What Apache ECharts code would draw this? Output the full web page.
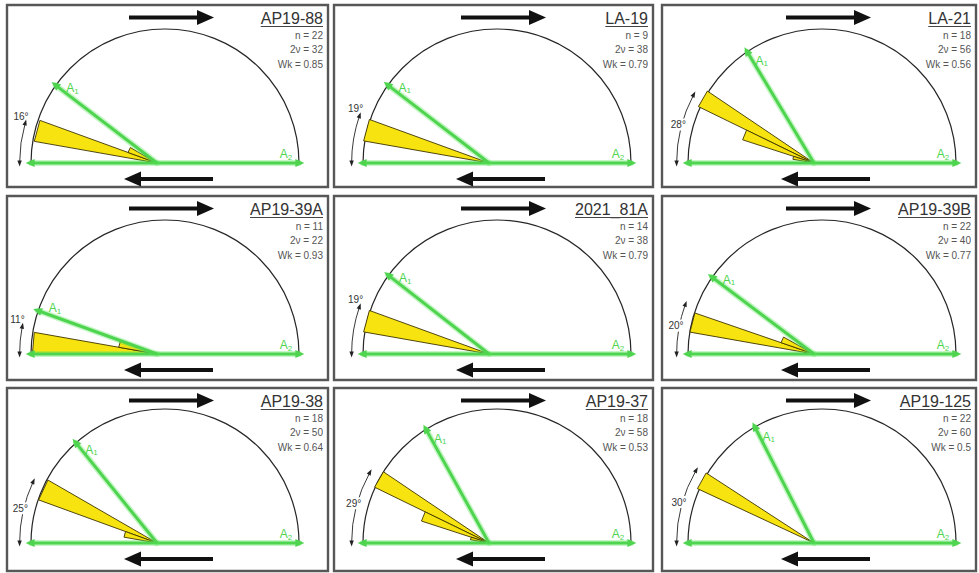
<!DOCTYPE html>
<html>
<head>
<meta charset="utf-8">
<script src="https://cdn.jsdelivr.net/npm/echarts@6/dist/echarts.min.js"></script>
<style>
  html, body { margin: 0; padding: 0; background: #fff; }
  #chart { width: 979px; height: 573px; }
</style>
</head>
<body>
<div id="chart"></div>
<script>
// Sample names, in reading order (3 x 3 panels)
const samples = ['AP19-88', 'LA-19', 'LA-21', 'AP19-39A', '2021_81A', 'AP19-39B', 'AP19-38', 'AP19-37', 'AP19-125'];
// Number of measured clasts per sample
const countN = [22, 9, 18, 11, 14, 22, 18, 18, 22];
// Critical angle 2ν (degrees)
const twoNu = [32, 38, 56, 22, 38, 40, 50, 58, 60];
// Kinematic vorticity number
const wkValues = [0.85, 0.79, 0.56, 0.93, 0.79, 0.77, 0.64, 0.53, 0.5];
// Inclined flow apophysis A1, angle above the horizontal apophysis A2 (degrees)
const apophysisAngle = [37.5, 37.6, 59, 20, 38, 37, 51, 61, 63];
// Rose bins per sample: [from angle, to angle, relative length]
const roseAP1988 = [[10, 20, 0.93], [20, 30, 0.23]];
const roseLA19 = [[10, 20, 0.95]];
const roseLA21 = [[26, 34, 0.96], [18, 26, 0.56], [10, 18, 0.16]];
const roseAP1939A = [[0, 10, 0.93], [10, 20, 0.29]];
const rose202181A = [[10, 20, 0.95]];
const roseAP1939B = [[10, 19, 0.94], [19, 29, 0.26]];
const roseAP1938 = [[20, 30, 0.94], [10, 20, 0.25]];
const roseAP1937 = [[26, 34, 0.95], [18, 26, 0.53], [10, 18, 0.14]];
const roseAP19125 = [[25, 33, 0.96]];
const roseBins = [roseAP1988, roseLA19, roseLA21, roseAP1939A, rose202181A, roseAP1939B, roseAP1938, roseAP1937, roseAP19125];

// ---- layout ----
const colEdges = [[7, 328], [334, 653], [662, 976]];
const rowEdges = [[5, 187], [196, 380], [388, 571]];
const arcCX = [165, 497, 822];
const arcCY = [163, 354, 543];
const R = 134;            // semicircle radius (px)
const APEX_SHIFT = 8;     // rose origin sits slightly left of the semicircle centre
const NU_R = 1.085;       // radius of the ν arc marker (in frame units)
const nuLabelMid = [false, false, true, false, false, true, true, true, true];
const GREEN = '#4fd44f';
const GLOW = 'rgba(90,230,90,0.35)';
const FONT = '"Liberation Sans", Arial, sans-serif';

// length of A1 (rose units) so that it ends on the semicircle
function apophysisLength(deg) {
  const c = Math.cos(deg * Math.PI / 180);
  const s = APEX_SHIFT;
  return (-s * c + Math.sqrt(s * s * c * c - s * s + R * R)) / R;
}

function renderWedge(params, api) {
  const a0 = api.value(0), a1 = api.value(1), len = api.value(2);
  const c = api.coord([0, a0]);
  const p0 = api.coord([len, a0]);
  const p1 = api.coord([len, a1]);
  return {
    type: 'polygon',
    shape: { points: [c, p0, p1] },
    style: { fill: '#f7e310', stroke: '#3d3400', lineWidth: 0.9, lineJoin: 'round' }
  };
}

function arrowHead(p, dir, len, half, color) {
  const perp = [-dir[1], dir[0]];
  const tip = [p[0] + dir[0] * len * 0.6, p[1] + dir[1] * len * 0.6];
  const base = [p[0] - dir[0] * len * 0.4, p[1] - dir[1] * len * 0.4];
  return {
    type: 'polygon',
    shape: { points: [tip, [base[0] + perp[0] * half, base[1] + perp[1] * half], [base[0] - perp[0] * half, base[1] - perp[1] * half]] },
    style: { fill: color }
  };
}

// green segment with a soft halo drawn underneath
function glowLine(p0, p1) {
  return [
    { type: 'line', shape: { x1: p0[0], y1: p0[1], x2: p1[0], y2: p1[1] },
      style: { stroke: GLOW, lineWidth: 6, lineCap: 'round' } },
    { type: 'line', shape: { x1: p0[0], y1: p0[1], x2: p1[0], y2: p1[1] },
      style: { stroke: GREEN, lineWidth: 3 } }
  ];
}

// horizontal apophysis A2 across the full diameter, arrow at both ends
function renderA2(params, api) {
  const r = api.value(0);
  const pl = api.coord([r, api.value(1)]);
  const pr = api.coord([r, api.value(2)]);
  return {
    type: 'group',
    children: glowLine(pl, pr).concat([
      arrowHead(pl, [-1, 0], 9, 4, GREEN),
      arrowHead(pr, [1, 0], 9, 4, GREEN)
    ])
  };
}

// inclined apophysis A1 from the rose origin to the semicircle, with its label
function renderA1(params, api) {
  const L = api.value(0), th = api.value(1);
  const o = api.coord([0, th]);
  const p = api.coord([L, th]);
  const d = [p[0] - o[0], p[1] - o[1]];
  const dl = Math.hypot(d[0], d[1]);
  const dir = [d[0] / dl, d[1] / dl];
  const u = [-dir[0], -dir[1]];
  const n = [-dir[1], dir[0]];
  const lx = p[0] + u[0] * 15 + n[0] * 8;
  const ly = p[1] + u[1] * 15 + n[1] * 8;
  return {
    type: 'group',
    children: glowLine(o, p).concat([
      arrowHead(p, dir, 9, 4, GREEN),
      { type: 'text',
        style: { text: '{a|A}{s|1}', x: lx, y: ly, align: 'center', verticalAlign: 'middle',
          rich: { a: { fontSize: 12, fontFamily: FONT, fill: GREEN, lineHeight: 14 },
                  s: { fontSize: 8, fontFamily: FONT, fill: GREEN, lineHeight: 8, verticalAlign: 'bottom' } } } }
    ])
  };
}

// ν arc marker, ν label and the A2 label, drawn in the frame polar
function makeFrameDecor(i) {
  return function (params, api) {
    const nu = api.value(0);
    const c = api.coord([0, 0]);
    const pa = api.coord([NU_R, 0]);
    const pb = api.coord([NU_R, nu]);
    const r = Math.hypot(pa[0] - c[0], pa[1] - c[1]);
    const endA = Math.atan2(pb[1] - c[1], pb[0] - c[0]);
    const startA = -Math.PI;
    const dEnd = [-Math.sin(endA), Math.cos(endA)];
    const dStart = [Math.sin(startA), -Math.cos(startA)];
    const children = [
      { type: 'arc', shape: { cx: c[0], cy: c[1], r: r, startAngle: startA, endAngle: endA, clockwise: true },
        style: { stroke: '#222', lineWidth: 0.9, fill: null } },
      arrowHead(pb, dEnd, 6, 2.2, '#222'),
      arrowHead(pa, dStart, 6, 2.2, '#222')
    ];
    const mid = nuLabelMid[i];
    const lp = mid ? api.coord([1.11, nu / 2 + 1]) : api.coord([1.13, nu + 2]);
    children.push({
      type: 'text',
      style: { text: nu + '°', x: lp[0], y: lp[1], align: 'center', verticalAlign: 'middle',
        font: '10px ' + FONT, fill: '#333', backgroundColor: mid ? '#fff' : null, padding: [1, 0] }
    });
    const pr = api.coord([1, 180]);
    children.push({
      type: 'text',
      style: { text: '{a|A}{s|2}', x: pr[0] - 13, y: pr[1] - 9, align: 'center', verticalAlign: 'middle',
        rich: { a: { fontSize: 12, fontFamily: FONT, fill: GREEN, lineHeight: 14 },
                s: { fontSize: 8, fontFamily: FONT, fill: GREEN, lineHeight: 8, verticalAlign: 'bottom' } } }
    });
    return { type: 'group', children: children };
  };
}

const measureCtx = document.createElement('canvas').getContext('2d');
function textWidth(txt, font) { measureCtx.font = font; return measureCtx.measureText(txt).width; }

const polar = [], angleAxis = [], radiusAxis = [], series = [], graphic = [];

samples.forEach(function (name, i) {
  const col = i % 3, row = Math.floor(i / 3);
  const cx = arcCX[col], cy = arcCY[row];
  const fp = 2 * i, rp = 2 * i + 1;
  polar.push({ center: [cx, cy], radius: R });
  polar.push({ center: [cx - APEX_SHIFT, cy], radius: R });
  [0, 1].forEach(function (k) {
    angleAxis.push({ polarIndex: 2 * i + k, type: 'value', min: 0, max: 180, startAngle: 180, endAngle: 0, clockwise: true,
      axisLine: { show: k === 0, lineStyle: { color: '#262626', width: 1.2 } },
      axisTick: { show: false }, axisLabel: { show: false }, splitLine: { show: false }, splitArea: { show: false } });
    radiusAxis.push({ polarIndex: 2 * i + k, type: 'value', min: 0, max: 1,
      axisLine: { show: false }, axisTick: { show: false }, axisLabel: { show: false }, splitLine: { show: false } });
  });

  // rose wedges
  series.push({ type: 'custom', name: name, coordinateSystem: 'polar', polarIndex: rp, renderItem: renderWedge,
    data: roseBins[i], z: 3, silent: true });

  // horizontal apophysis A2
  series.push({ type: 'custom', coordinateSystem: 'polar', polarIndex: fp, renderItem: renderA2,
    data: [[1, 0, 180]], z: 4, silent: true });

  // inclined apophysis A1
  const th = apophysisAngle[i];
  series.push({ type: 'custom', coordinateSystem: 'polar', polarIndex: rp, renderItem: renderA1,
    data: [[apophysisLength(th), th]], z: 4, silent: true });

  series.push({ type: 'custom', coordinateSystem: 'polar', polarIndex: fp, renderItem: makeFrameDecor(i),
    data: [[twoNu[i] / 2]], z: 5, silent: true });

  // panel frame
  const x0 = colEdges[col][0], x1 = colEdges[col][1];
  const y0 = rowEdges[row][0], y1 = rowEdges[row][1];
  graphic.push({ type: 'rect', shape: { x: x0, y: y0, width: x1 - x0, height: y1 - y0 },
    style: { fill: null, stroke: '#575757', lineWidth: 2.4 }, z: 1, silent: true });

  // shear sense arrows
  const ty = y0 + 12.5, by = cy + 16;
  graphic.push({ type: 'line', shape: { x1: cx - 36, y1: ty, x2: cx + 36, y2: ty },
    style: { stroke: '#111', lineWidth: 4 }, z: 10, silent: true });
  graphic.push({ type: 'polygon', shape: { points: [[cx + 49, ty], [cx + 32, ty - 7.5], [cx + 32, ty + 7.5]] },
    style: { fill: '#111' }, z: 10, silent: true });
  graphic.push({ type: 'line', shape: { x1: cx - 26, y1: by, x2: cx + 48, y2: by },
    style: { stroke: '#111', lineWidth: 4 }, z: 10, silent: true });
  graphic.push({ type: 'polygon', shape: { points: [[cx - 41, by], [cx - 24, by - 7.5], [cx - 24, by + 7.5]] },
    style: { fill: '#111' }, z: 10, silent: true });

  // sample title with underline and statistics
  const tx = x1 - 5;
  const titleFont = '16px ' + FONT;
  const w = textWidth(name, titleFont);
  graphic.push({ type: 'text', style: { text: name, x: tx, y: y0 + 13, align: 'right', verticalAlign: 'middle',
    font: titleFont, fill: '#333' }, z: 10, silent: true });
  graphic.push({ type: 'line', shape: { x1: tx - w, y1: y0 + 21.5, x2: tx, y2: y0 + 21.5 },
    style: { stroke: '#444', lineWidth: 1 }, z: 10, silent: true });
  const stats = ['n = ' + countN[i], '2ν = ' + twoNu[i], 'Wk = ' + wkValues[i]];
  stats.forEach(function (s, k) {
    graphic.push({ type: 'text', style: { text: s, x: tx, y: y0 + 30 + k * 14.5, align: 'right', verticalAlign: 'middle',
      font: '10px ' + FONT, fill: '#555' }, z: 10, silent: true });
  });
});

const chart = echarts.init(document.getElementById('chart'), null, { renderer: 'svg', width: 979, height: 573 });
chart.setOption({
  backgroundColor: '#fff',
  animation: false,
  polar: polar,
  angleAxis: angleAxis,
  radiusAxis: radiusAxis,
  series: series,
  graphic: graphic
});
</script>
</body>
</html>
